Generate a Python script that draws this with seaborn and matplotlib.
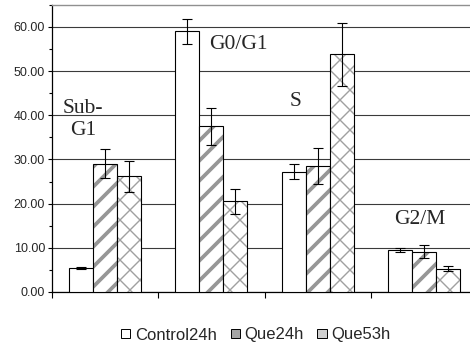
import matplotlib
matplotlib.use("Agg")
import matplotlib.pyplot as plt
import matplotlib.patches as mpatches
import seaborn as sns
import pandas as pd
import numpy as np
from matplotlib.colors import to_rgba
from matplotlib.ticker import MultipleLocator, FormatStrFormatter

phases = ["Sub-G1", "G0/G1", "S", "G2/M"]
phase_labels = ["Sub-\nG1", "G0/G1", "S", "G2/M"]
groups = ["Control24h", "Que24h", "Que53h"]
control_vals = [5.4, 59.0, 27.2, 9.5]
control_err = [0.2, 2.8, 1.7, 0.45]
que24_vals = [29.0, 37.5, 28.5, 9.1]
que24_err = [3.25, 4.2, 4.0, 1.5]
que53_vals = [26.2, 20.5, 53.8, 5.3]
que53_err = [3.55, 2.9, 7.1, 0.6]

rows = []
for g, vals in zip(groups, [control_vals, que24_vals, que53_vals]):
    for p, v in zip(phases, vals):
        rows.append({"phase": p, "group": g, "value": v})
df = pd.DataFrame(rows)
errs = [control_err, que24_err, que53_err]

DPI = 120
W, H = 470, 351


def s(v):
    """size given in points-at-100dpi -> points at DPI"""
    return v * 100.0 / DPI


sns.set_style("white")
plt.rcParams["font.family"] = ["Liberation Sans", "DejaVu Sans"]
plt.rcParams["hatch.linewidth"] = s(0.8)

fig = plt.figure(figsize=(W / DPI, H / DPI), dpi=DPI)
ax = fig.add_axes([52 / W, 1 - 292 / H, 425 / W, (292 - 4.7) / H])

sns.barplot(data=df, x="phase", y="value", hue="group", order=phases,
            hue_order=groups, palette=["white", "white", "white"],
            width=0.68, gap=0, edgecolor="black", linewidth=s(0.8),
            errorbar=None, ax=ax, legend=False, zorder=3)

bar_containers = list(ax.containers)
hatches = [None, "//", "xx"]
hcolors = ["black", "#969696", "#a0a0a0"]
hlw = [s(0.8), s(2.7), s(1.0)]
for i, cont in enumerate(bar_containers):
    for patch in cont:
        if hatches[i]:
            patch.set_hatch(hatches[i])
            patch._hatch_color = to_rgba(hcolors[i])
            if hasattr(patch, "set_hatch_linewidth"):
                patch.set_hatch_linewidth(hlw[i])
            else:
                patch._hatch_linewidth = hlw[i]
    xs = [p.get_x() + p.get_width() / 2 for p in cont]
    hs = [p.get_height() for p in cont]
    ax.errorbar(xs, hs, yerr=errs[i], fmt="none", ecolor="black",
                elinewidth=s(0.8), capsize=s(3.6), capthick=s(0.8), zorder=4)

ax.set_ylim(0, 65)
ax.set_xlim(-0.5, 3.5)
ax.yaxis.set_major_locator(MultipleLocator(10))
ax.yaxis.set_minor_locator(MultipleLocator(5))
ax.yaxis.set_major_formatter(FormatStrFormatter("%.2f"))
ax.set_yticks(np.arange(0, 61, 10))
ax.set_xticks([-0.5, 0.5, 1.5, 2.5, 3.5])
ax.set_xticklabels([])
ax.tick_params(axis="x", direction="out", length=s(4), width=s(0.8), color="black", bottom=True)
ax.tick_params(axis="y", which="major", direction="out", length=s(3), width=s(0.8),
               color="black", labelsize=s(9), pad=s(2), left=True)
ax.tick_params(axis="y", which="minor", direction="out", length=s(2), width=s(0.8),
               color="black", left=True)
ax.yaxis.grid(True, color="#3a3a3a", linewidth=s(0.8), zorder=0)
ax.set_axisbelow(True)
ax.set_xlabel("")
ax.set_ylabel("")
for sp in ["left", "bottom"]:
    ax.spines[sp].set_color("black")
    ax.spines[sp].set_linewidth(s(0.9))
ax.spines["top"].set_color("#909090")
ax.spines["top"].set_linewidth(s(1.0))
ax.spines["right"].set_visible(False)

# phase labels
label_pos = [(-0.21, 39.1), (1.25, 56.0), (1.79, 43.1), (2.96, 16.3)]
for (x, y), t in zip(label_pos, phase_labels):
    ax.text(x, y, t, fontsize=s(15.5), family=["Liberation Serif", "DejaVu Serif"],
            ha="center", va="center", linespacing=1.2, zorder=5)

legend_fills = ["white", "#a6a6a6", "#cfcfcf"]
handles = [mpatches.Patch(facecolor=fc, edgecolor="black", linewidth=s(0.7))
           for fc in legend_fills]
leg = fig.legend(handles, groups, loc="center", bbox_to_anchor=(256 / W, 1 - 335 / H),
                 ncol=3, frameon=False, fontsize=s(12), handlelength=0.55, handleheight=0.4,
                 handletextpad=0.3, columnspacing=0.8, borderaxespad=0)

fig.savefig("out.png", dpi=DPI)
